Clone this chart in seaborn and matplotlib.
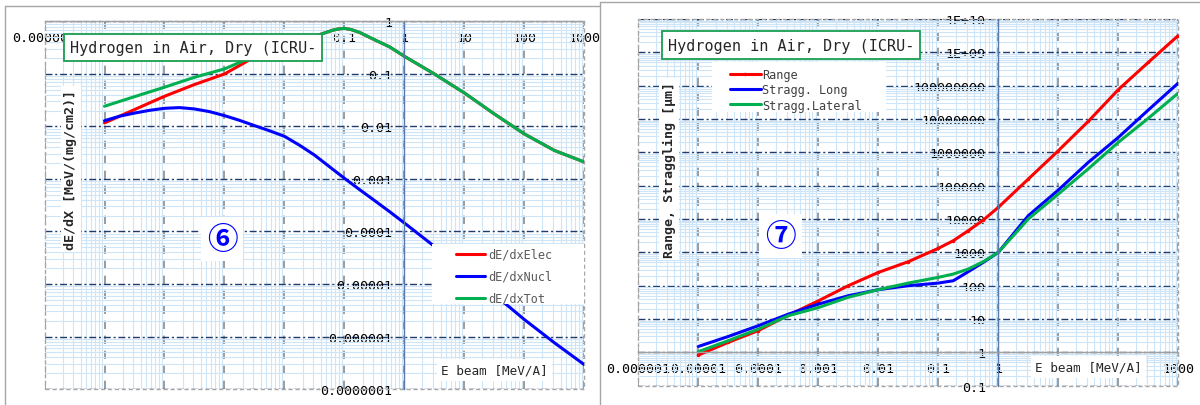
import matplotlib.pyplot as plt
import matplotlib.ticker as mticker
from matplotlib.lines import Line2D
from matplotlib.patches import Rectangle
import pandas as pd
import seaborn as sns

# ---- values ----
# chart 6 : stopping power, MeV/(mg/cm2)
e_stop = [1e-5, 3.16e-5, 1e-4, 3.16e-4, 1e-3, 3.16e-3, 0.01, 0.0316, 0.063, 0.079,
          0.1, 0.13, 0.178, 0.316, 0.562, 1, 3.16, 10, 31.6, 100, 316, 1000]
dedx_elec = [0.0117, 0.021, 0.0376, 0.063, 0.10, 0.21, 0.39, 0.52, 0.68, 0.72,
             0.74, 0.70, 0.62, 0.45, 0.33, 0.217, 0.10, 0.0435, 0.0173, 0.0072, 0.0035, 0.0021]
dedx_tot = [0.0243, 0.037, 0.056, 0.0865, 0.125, 0.22, 0.40, 0.52, 0.68, 0.72,
            0.74, 0.70, 0.62, 0.45, 0.33, 0.217, 0.10, 0.0435, 0.0173, 0.0072, 0.0035, 0.0021]

e_nucl = [1e-5, 1.78e-5, 3.16e-5, 5.62e-5, 1e-4, 1.78e-4, 3.16e-4, 5.62e-4, 1e-3, 1.78e-3,
          3.16e-3, 5.62e-3, 0.01, 0.0178, 0.0316, 0.063, 0.1, 0.178, 0.316, 0.562,
          1, 3.16, 10, 31.6, 100, 316, 1000]
dedx_nucl = [0.0129, 0.0157, 0.018, 0.0203, 0.0222, 0.0229, 0.0216, 0.0192, 0.0161, 0.0131,
             0.0104, 0.0083, 0.0065, 0.0044, 0.00286, 0.00155, 0.00103, 6.3e-4, 3.9e-4, 2.4e-4,
             1.45e-4, 5.2e-5, 1.8e-5, 6.3e-6, 2.1e-6, 7.6e-7, 2.9e-7]

# chart 7 : range / straggling, um
e_range = [1e-5, 3.16e-5, 1e-4, 3.16e-4, 1e-3, 3.16e-3, 0.01, 0.0316, 0.1,
           0.178, 0.316, 0.562, 1, 3.16, 10, 31.6, 100, 316, 1000]
range_um = [0.83, 2.0, 4.5, 13, 35, 100, 250, 525, 1320,
            2240, 4470, 9300, 22400, 1.58e5, 1.12e6, 8.5e6, 7.6e7, 5.0e8, 3.2e9]
stragg_long = [1.5, 3.0, 6.3, 14, 28, 50, 76, 100, 120,
               141, 263, 500, 1000, 12600, 74000, 5.0e5, 2.8e6, 1.86e7, 1.2e8]
stragg_lat = [1.05, 2.24, 5.0, 12.6, 22, 45, 76, 120, 178,
              224, 316, 525, 1000, 10000, 56000, 3.2e5, 2.0e6, 1.05e7, 6.0e7]

x_ticks = [1e-6, 1e-5, 1e-4, 1e-3, 1e-2, 1e-1, 1, 10, 100, 1000]
x6_labels = ["0.000001", "0.00001", "0.0001", "0.001", "0.01", "0.1", "1", "10", "100", "1000"]
x7_labels = ["0.000001", "0.00001", "0.0001", "0.001", "0.01", "0.1", "1", "", "", "1000"]
y6_ticks = [1e-7, 1e-6, 1e-5, 1e-4, 1e-3, 1e-2, 1e-1, 1]
y6_labels = ["0.0000001", "0.000001", "0.00001", "0.0001", "0.001", "0.01", "0.1", "1"]
y7_ticks = [0.1, 1, 10, 100, 1e3, 1e4, 1e5, 1e6, 1e7, 1e8, 1e9, 1e10]
y7_labels = ["0.1", "1", "10", "100", "1000", "10000", "100000", "1000000",
             "10000000", "100000000", "1E+09", "1E+10"]

RED, BLUE, GREEN = "#ff0000", "#0000ff", "#00b050"

df6 = pd.DataFrame({"E": e_stop, "elec": dedx_elec, "tot": dedx_tot})
df6n = pd.DataFrame({"E": e_nucl, "nucl": dedx_nucl})
df7 = pd.DataFrame({"E": e_range, "range": range_um, "long": stragg_long, "lat": stragg_lat})

sns.set_style("white")
plt.rcParams["font.family"] = ["DejaVu Sans Mono", "Noto Sans CJK JP"]

fig = plt.figure(figsize=(12, 4.06), dpi=100)
fig.patch.set_facecolor("white")
ax6 = fig.add_axes([0.0371, 0.0394, 0.4499, 0.9052])
ax7 = fig.add_axes([0.5319, 0.0475, 0.4500, 0.9032])


def style_axes(ax, xlabels, yticks, ylabels, ylim):
    ax.set_xscale("log")
    ax.set_yscale("log")
    ax.set_xlim(1e-6, 1e3)
    ax.set_ylim(*ylim)
    ax.set_xticks(x_ticks)
    ax.set_xticklabels(xlabels)
    ax.set_yticks(yticks)
    ax.set_yticklabels(ylabels)
    ax.xaxis.set_minor_locator(mticker.LogLocator(base=10, subs=range(2, 10), numticks=30))
    ax.yaxis.set_minor_locator(mticker.LogLocator(base=10, subs=range(2, 10), numticks=30))
    ax.xaxis.set_minor_formatter(mticker.NullFormatter())
    ax.yaxis.set_minor_formatter(mticker.NullFormatter())
    ax.set_axisbelow(True)
    ax.grid(which="minor", color="#cde5f7", lw=0.8)
    ax.xaxis.grid(True, which="major", color="#8a8a8a", ls=(0, (5, 4)), lw=1.2)
    ax.yaxis.grid(True, which="major", color="#1f3b6e", ls=(0, (5, 2, 1.5, 2)), lw=1.0)
    for s in ["top", "right"]:
        ax.spines[s].set_visible(False)
    ax.spines["left"].set_position(("data", 1))
    ax.spines["bottom"].set_position(("data", 1))
    ax.spines["left"].set_color("#5a78a8")
    ax.spines["bottom"].set_color("#a0a0a0")
    ax.spines["left"].set_linewidth(1.0)
    ax.spines["bottom"].set_linewidth(1.0)
    ax.tick_params(which="major", length=0, labelsize=9.6, colors="black")
    ax.tick_params(axis="x", which="major", pad=7)
    ax.tick_params(axis="y", which="major", pad=9)
    ax.tick_params(which="minor", length=3, direction="inout", color="#8fa8c8")
    ax.add_patch(Rectangle((0, 0), 1, 1, transform=ax.transAxes, fill=False,
                           ec="#a6a6a6", lw=1.0, ls=(0, (3, 2)), clip_on=False, zorder=1))
    ax.set_xlabel("")
    ax.set_ylabel("")


def circled(ax, x, y, s):
    ax.text(x, y, s, transform=ax.transAxes, fontsize=22, fontweight="bold", color="#0000ff",
            family=["Noto Sans CJK JP", "DejaVu Sans"], ha="center", va="center", zorder=6,
            bbox=dict(boxstyle="square,pad=0.2", fc="white", ec="none"))


def title_box(ax, x, y):
    ax.text(x, y, "Hydrogen in Air, Dry (ICRU-", transform=ax.transAxes,
            fontsize=10.9, ha="left", va="center", zorder=6,
            bbox=dict(boxstyle="square,pad=0.4", fc="white", ec="#1a9e50", lw=1.3))


def beam_label(ax, x, y):
    ax.text(x, y, "E beam [MeV/A]", transform=ax.transAxes, fontsize=9.1,
            ha="left", va="center", zorder=6,
            bbox=dict(boxstyle="square,pad=0.35", fc="white", ec="none"))


def side_label(ax, x, y, s):
    ax.text(x, y, s, transform=ax.transAxes, rotation=90,
            fontsize=9.6, fontweight="bold", ha="center", va="center", zorder=6,
            bbox=dict(boxstyle="square,pad=0.25", fc="white", ec="none"))


# ---- chart 6 ----
sns.lineplot(data=df6, x="E", y="elec", ax=ax6, color=RED, lw=2.2, label="dE/dxElec")
sns.lineplot(data=df6n, x="E", y="nucl", ax=ax6, color=BLUE, lw=2.2, label="dE/dxNucl")
sns.lineplot(data=df6, x="E", y="tot", ax=ax6, color=GREEN, lw=2.2, label="dE/dxTot")
style_axes(ax6, x6_labels, y6_ticks, y6_labels, (1e-7, 1))

ax6.add_patch(Rectangle((0.7178, 0.2313), 0.2822, 0.1633, transform=ax6.transAxes,
                        fc="white", ec="none", zorder=4.5))
leg6 = ax6.legend(loc="upper left", bbox_to_anchor=(0.751, 0.400), frameon=False,
                  borderpad=0, fontsize=8.6, handlelength=2.4, handletextpad=0.3,
                  labelspacing=0.75)
leg6.set_zorder(5)
for t in leg6.get_texts():
    t.set_color("#595959")

title_box(ax6, 0.0472, 0.929)
side_label(ax6, 0.049, 0.599, "dE/dX [MeV/(mg/cm2)]")
circled(ax6, 0.3288, 0.408, "⑥")
beam_label(ax6, 0.7344, 0.0517)

# ---- chart 7 ----
sns.lineplot(data=df7, x="E", y="range", ax=ax7, color=RED, lw=2.2, marker="o",
             markersize=2.5, markeredgewidth=0, label="Range")
sns.lineplot(data=df7, x="E", y="long", ax=ax7, color=BLUE, lw=2.2, label="Stragg. Long")
sns.lineplot(data=df7, x="E", y="lat", ax=ax7, color=GREEN, lw=2.2, label="Stragg.Lateral")
style_axes(ax7, x7_labels, y7_ticks, y7_labels, (0.1, 1e10))

ax7.add_patch(Rectangle((0.1365, 0.7464), 0.3222, 0.1364, transform=ax7.transAxes,
                        fc="white", ec="none", zorder=4.5))
leg7 = ax7.legend(loc="upper left", bbox_to_anchor=(0.158, 0.883), frameon=False,
                  borderpad=0, fontsize=8.6, handlelength=2.6, handletextpad=0.15,
                  labelspacing=0.2)
leg7.set_zorder(5)
for t in leg7.get_texts():
    t.set_color("#404040")

title_box(ax7, 0.055, 0.929)
side_label(ax7, 0.0569, 0.591, "Range, Straggling [μm]")
circled(ax7, 0.2633, 0.408, "⑦")
beam_label(ax7, 0.7346, 0.051)

# ---- panel frames ----
W, H = 1200.0, 406.0
frame = dict(color="#a6a6a6", lw=1.0, transform=fig.transFigure)
fig.add_artist(Line2D([4.5 / W, 4.5 / W], [0, 1 - 7 / H], **frame))
fig.add_artist(Line2D([4.5 / W, 600 / W], [1 - 7 / H, 1 - 7 / H], **frame))
fig.add_artist(Line2D([600 / W, 600 / W], [0, 1 - 3 / H], **frame))
fig.add_artist(Line2D([600 / W, 1], [1 - 3 / H, 1 - 3 / H], **frame))

fig.savefig("out.png", dpi=100, facecolor="white")
